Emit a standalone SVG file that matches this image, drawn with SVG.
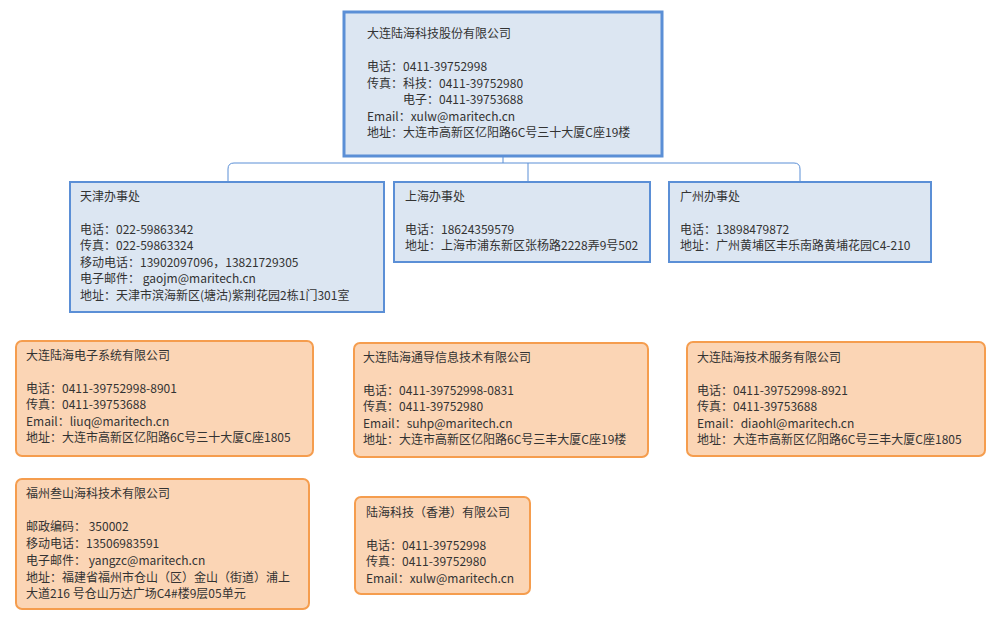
<svg xmlns="http://www.w3.org/2000/svg" width="1000" height="633" viewBox="0 0 1000 633">
<style>
text{font-family:"Noto Sans CJK SC","Liberation Sans",sans-serif;font-size:12px;fill:#333}
.b{fill:#dce6f2;stroke:#5b8fd6;stroke-width:2}
.o{fill:#fbd5b5;stroke:#f59d4e;stroke-width:2}
.c{fill:none;stroke:#5b8fd6;stroke-width:1}
</style>
<rect width="1000" height="633" fill="#fff"/>
<g id="connectors">
<path class="c" d="M503 156V163H234Q228 163 228 169V182M503 163H794Q800 163 800 169V182M528 163V182"/>
</g>
<g id="hq"><rect x="344" y="12" width="318" height="144" style="fill:#dce6f2;stroke:#5b8fd6;stroke-width:3"/>
<text x="367" y="38">大连陆海科技股份有限公司</text>
<text x="367" y="71">电话：0411-39752998</text>
<text x="367" y="88">传真：科技：0411-39752980</text>
<text x="403" y="104">电子：0411-39753688</text>
<text x="367" y="121">Email：xulw@maritech.cn</text>
<text x="367" y="137">地址：大连市高新区亿阳路6C号三十大厦C座19楼</text></g>
<g id="tianjin"><rect class="b" x="70" y="182" width="314" height="130"/>
<text x="80" y="201">天津办事处</text>
<text x="80" y="234">电话：022-59863342</text>
<text x="80" y="250">传真：022-59863324</text>
<text x="80" y="267">移动电话：13902097096，13821729305</text>
<text x="80" y="283">电子邮件： gaojm@maritech.cn</text>
<text x="80" y="300">地址：天津市滨海新区(塘沽)紫荆花园2栋1门301室</text></g>
<g id="shanghai"><rect class="b" x="394" y="182" width="256" height="80"/>
<text x="405" y="201">上海办事处</text>
<text x="405" y="234">电话：18624359579</text>
<text x="405" y="250">地址：上海市浦东新区张杨路2228弄9号502</text></g>
<g id="guangzhou"><rect class="b" x="669" y="182" width="262" height="80"/>
<text x="680" y="201">广州办事处</text>
<text x="680" y="234">电话：13898479872</text>
<text x="680" y="250">地址：广州黄埔区丰乐南路黄埔花园C4-210</text></g>
<g id="dianzi"><rect class="o" x="16" y="341" width="297" height="115" rx="6"/>
<text x="26" y="360">大连陆海电子系统有限公司</text>
<text x="26" y="393">电话：0411-39752998-8901</text>
<text x="26" y="409">传真：0411-39753688</text>
<text x="26" y="426">Email：liuq@maritech.cn</text>
<text x="26" y="442">地址：大连市高新区亿阳路6C号三十大厦C座1805</text></g>
<g id="tongdao"><rect class="o" x="354" y="343" width="294" height="114" rx="6"/>
<text x="363" y="362">大连陆海通导信息技术有限公司</text>
<text x="363" y="395">电话：0411-39752998-0831</text>
<text x="363" y="411">传真：0411-39752980</text>
<text x="363" y="428">Email：suhp@maritech.cn</text>
<text x="363" y="444">地址：大连市高新区亿阳路6C号三丰大厦C座19楼</text></g>
<g id="fuwu"><rect class="o" x="687" y="342" width="298" height="114" rx="6"/>
<text x="697" y="362">大连陆海技术服务有限公司</text>
<text x="697" y="395">电话：0411-39752998-8921</text>
<text x="697" y="411">传真：0411-39753688</text>
<text x="697" y="428">Email：diaohl@maritech.cn</text>
<text x="697" y="444">地址：大连市高新区亿阳路6C号三丰大厦C座1805</text></g>
<g id="fuzhou"><rect class="o" x="16" y="479" width="293" height="130" rx="6"/>
<text x="26" y="498">福州叁山海科技术有限公司</text>
<text x="26" y="531">邮政编码： 350002</text>
<text x="26" y="548">移动电话：13506983591</text>
<text x="26" y="565">电子邮件： yangzc@maritech.cn</text>
<text x="26" y="582">地址：福建省福州市仓山（区）金山（街道）浦上</text>
<text x="26" y="598">大道216 号仓山万达广场C4#楼9层05单元</text></g>
<g id="hk"><rect class="o" x="355" y="497" width="175" height="97" rx="6"/>
<text x="366" y="517">陆海科技（香港）有限公司</text>
<text x="366" y="550">电话：0411-39752998</text>
<text x="366" y="566">传真：0411-39752980</text>
<text x="366" y="583">Email：xulw@maritech.cn</text></g>
</svg>
